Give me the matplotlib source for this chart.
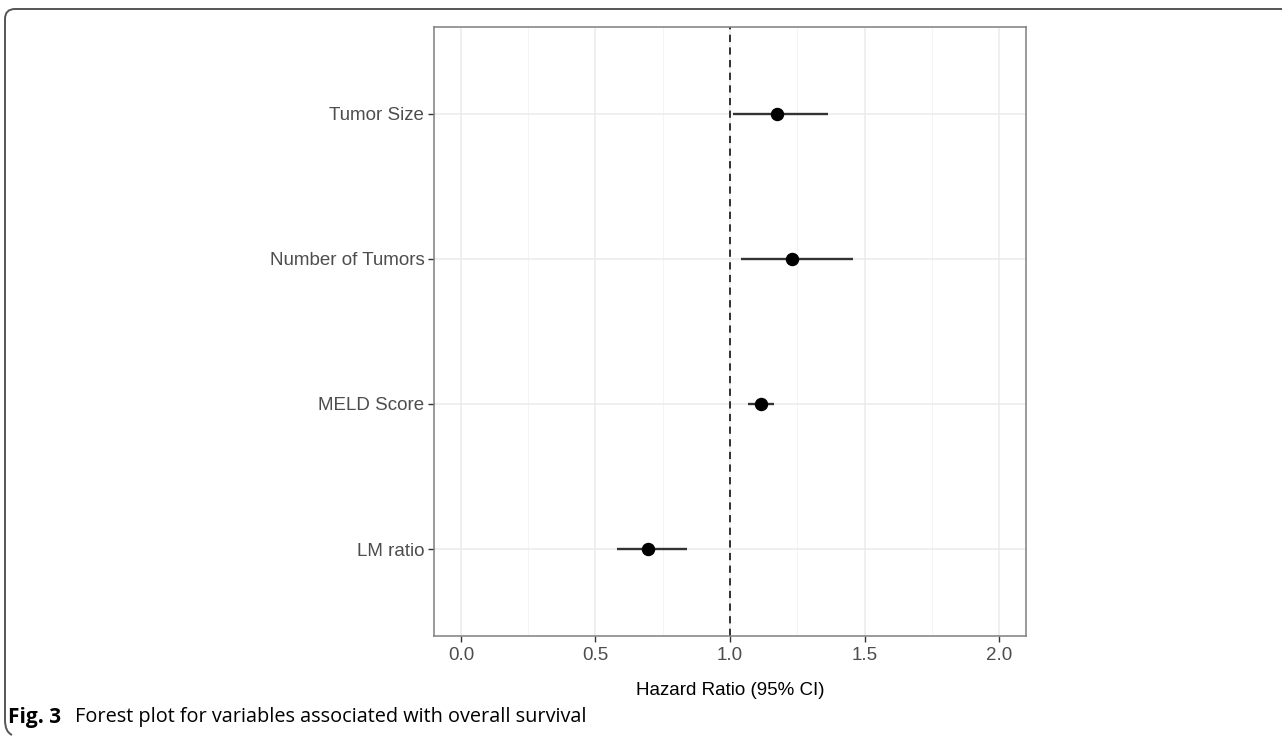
import matplotlib
matplotlib.use("Agg")
import matplotlib.pyplot as plt
from matplotlib.path import Path
from matplotlib.patches import PathPatch

# Data
variables = ["LM ratio", "MELD Score", "Number of Tumors", "Tumor Size"]
hr = [0.696, 1.114, 1.232, 1.176]
ci_low = [0.579, 1.068, 1.040, 1.012]
ci_high = [0.839, 1.164, 1.458, 1.363]
xticks = [0.0, 0.5, 1.0, 1.5, 2.0]
xtick_labels = ["0.0", "0.5", "1.0", "1.5", "2.0"]

W, H = 1282, 736
fig = plt.figure(figsize=(W / 100, H / 100), dpi=100)
ax = fig.add_axes([434 / W, 1 - 636 / H, (1026 - 434) / W, (636 - 27) / H])

ypos = list(range(1, len(variables) + 1))
ax.set_xlim(-0.1, 2.1)
ax.set_ylim(0.4, len(variables) + 0.6)

# grid
for x in [0.0, 0.5, 1.0, 1.5, 2.0]:
    ax.axvline(x, color="#EBEBEB", lw=1.1, zorder=0)
for x in [0.25, 0.75, 1.25, 1.75]:
    ax.axvline(x, color="#F2F2F2", lw=0.6, zorder=0)
for y in ypos:
    ax.axhline(y, color="#EBEBEB", lw=1.1, zorder=0)

ax.axvline(1.0, color="#222222", lw=1.3, ls=(0, (4, 3)), zorder=2)

ax.hlines(ypos, ci_low, ci_high, color="#333333", lw=1.7, zorder=3)
ax.scatter(hr, ypos, s=75, color="black", zorder=4)

ax.set_xticks(xticks)
ax.set_xticklabels(xtick_labels)
ax.set_yticks(ypos)
ax.set_yticklabels(variables)
ax.tick_params(axis="both", colors="#333333", labelcolor="#4D4D4D",
               labelsize=13.5, length=4, width=1)
for lab in ax.get_xticklabels() + ax.get_yticklabels():
    lab.set_family(["Liberation Sans", "DejaVu Sans"])
ax.tick_params(axis="x", pad=4)
ax.tick_params(axis="y", pad=3)
ax.set_xlabel("Hazard Ratio (95% CI)", fontsize=13.5, color="black",
              family=["Liberation Sans", "DejaVu Sans"], labelpad=13)
for s in ax.spines.values():
    s.set_color("#7F7F7F")
    s.set_linewidth(1.1)

# outer frame (top + left with rounded corners)
r = 10
verts = [(W, 9), (5 + r, 9), (5, 9), (5, 9 + r), (5, 720), (5, 732), (12, 735)]
codes = [Path.MOVETO, Path.LINETO, Path.CURVE3, Path.CURVE3, Path.LINETO, Path.CURVE3, Path.CURVE3]
verts_fig = [(x / W, 1 - y / H) for x, y in verts]
frame = PathPatch(Path(verts_fig, codes), transform=fig.transFigure, fill=False,
                  edgecolor="#555555", lw=1.4)
fig.patches.append(frame)

# caption
fig.text(8 / W, 1 - 717 / H, "Fig. 3", fontsize=15, fontweight="bold",
         family=["Open Sans", "DejaVu Sans"], va="center", ha="left")
fig.text(75 / W, 1 - 717 / H, "Forest plot for variables associated with overall survival",
         fontsize=14.3, family=["Open Sans", "DejaVu Sans"], va="center", ha="left")

fig.savefig("out.png", dpi=100)
